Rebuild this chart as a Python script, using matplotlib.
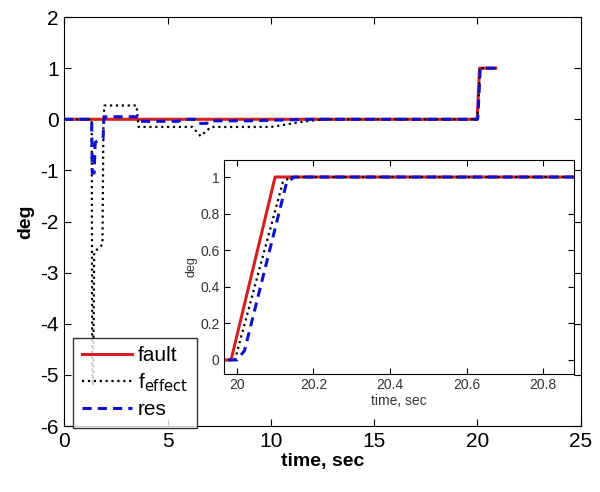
import numpy as np
import matplotlib
matplotlib.use('Agg')
import matplotlib.pyplot as plt

plt.rcParams['font.family'] = ['Liberation Sans', 'DejaVu Sans']
plt.rcParams['axes.unicode_minus'] = False

#--------------- Data ---------------
t_fault = [0, 19.985, 20.10, 20.88]
fault = [0, 0, 1, 1]

t_feff = [0, 1.33, 1.36, 1.40, 1.45, 1.85, 1.90, 1.95, 3.50, 3.60, 6.20, 6.60,
          7.10, 10.0, 11.5, 12.5, 19.995, 20.12, 20.14, 20.88]
feff = [0, 0, -5.2, -5.2, -2.6, -2.45, 0.0, 0.27, 0.27, -0.15, -0.15, -0.33,
        -0.15, -0.15, -0.05, 0, 0, 0.97, 1, 1]

t_res = [0, 1.33, 1.36, 1.45, 1.50, 1.88, 1.92, 2.0, 3.60, 3.70, 5.5, 5.8, 6.3,
         6.4, 6.9, 7.0, 9.0, 12.0, 20.0, 20.02, 20.13, 20.15, 20.88]
res = [0, 0, -1.05, -1.05, -0.45, -0.38, 0.0, 0.05, 0.05, -0.04, -0.04, 0.0,
       0.0, -0.08, -0.08, -0.03, -0.03, 0, 0, 0.05, 0.97, 1, 1]

main_xticks = [0, 5, 10, 15, 20, 25]
main_yticks = [-6, -5, -4, -3, -2, -1, 0, 1, 2]
inset_xticks = [20, 20.2, 20.4, 20.6, 20.8]
inset_yticks = [0, 0.2, 0.4, 0.6, 0.8, 1]


def draw_series(ax, lw):
    ax.plot(t_fault, fault, color='#d42020', ls='-', lw=lw, label='fault')
    ax.plot(t_feff, feff, color='k', ls=':', lw=1.6, label='f$_{\\mathrm{effect}}$')
    ax.plot(t_res, res, color='#1010d0', ls='--', lw=lw, dashes=(3, 2), label='res')


fig = plt.figure(figsize=(6, 4.92), dpi=100)

# Main axes
ax = fig.add_axes([0.107, 0.134, 0.861, 0.8314])
draw_series(ax, 2.2)
ax.set_xlim(0, 25)
ax.set_ylim(-6, 2)
ax.set_xticks(main_xticks)
ax.set_yticks(main_yticks)
ax.tick_params(direction='in', top=True, right=True, labelsize=15, length=5, pad=4)
ax.set_xlabel('time, sec', fontsize=14, fontweight='bold', labelpad=2)
ax.set_ylabel('deg', fontsize=14, fontweight='bold', labelpad=4)

leg = ax.legend(loc='lower left', bbox_to_anchor=(0.0175, -0.004, 0.24, 0.32),
                mode='expand', fontsize=15, frameon=True, fancybox=False,
                edgecolor='k', handlelength=2.4, handletextpad=0.3,
                borderaxespad=0, labelspacing=0.3)
leg.get_frame().set_linewidth(1.0)
leg.set_zorder(5)

# Inset axes
axin = fig.add_axes([0.373, 0.2398, 0.584, 0.435])
draw_series(axin, 2.2)
axin.set_xlim(19.966, 20.881)
axin.set_ylim(-0.077, 1.093)
axin.set_xticks(inset_xticks)
axin.set_yticks(inset_yticks)
axin.set_xticklabels(['20', '20.2', '20.4', '20.6', '20.8'])
axin.set_yticklabels(['0', '0.2', '0.4', '0.6', '0.8', '1'])
axin.tick_params(direction='in', top=True, right=True, labelsize=10, length=4,
                 pad=3, labelcolor='#333333')
axin.set_xlabel('time, sec', fontsize=10, color='#333333', labelpad=1)
axin.set_ylabel('deg', fontsize=9, color='#333333', labelpad=2)

fig.savefig('out.png', dpi=100)
